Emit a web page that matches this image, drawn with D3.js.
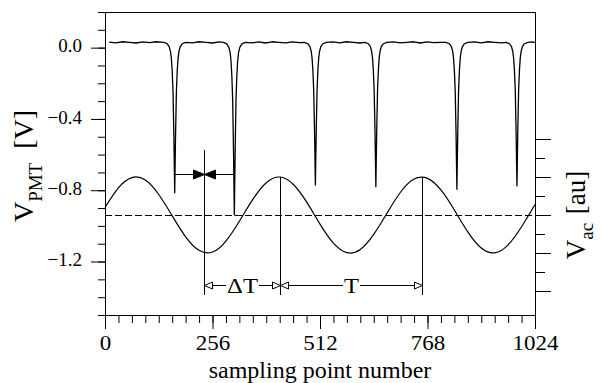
<!DOCTYPE html>
<html>
<head>
<meta charset="utf-8">
<script src="https://cdn.jsdelivr.net/npm/d3@7"></script>
</head>
<body style="margin:0;background:#fff">
<svg id="chart" width="603" height="383" style="display:block"></svg>
<script>
// ---------------- DATA ----------------
const xMajorTicks = [0, 256, 512, 768, 1024];
const yMajorTicks = [0.0, -0.4, -0.8, -1.2];
const xTitle = "sampling point number";

// PMT signal (V) vs sampling point: flat baseline with six narrow dips
const pmtSignal = [
  [10,0.031],[26,0.027],[42,0.033],[58,0.030],[74,0.026],[90,0.032],[106,0.028],[122,0.033],
  [140,0.030],[148,0.022],[153,0.005],[156,-0.022],[158,-0.060],[160,-0.130],[162,-0.250],[164,-0.493],[166,-0.814],[168,-0.493],[170,-0.250],[172,-0.130],[174,-0.060],[176,-0.022],[179,0.005],[184,0.022],[192,0.030],
  [208,0.027],[224,0.033],[240,0.030],[256,0.026],[272,0.032],
  [282,0.030],[290,0.021],[295,0.002],[298,-0.028],[300,-0.072],[302,-0.155],[304,-0.290],[306,-0.571],[308,-0.939],[310,-0.571],[312,-0.290],[314,-0.155],[316,-0.072],[318,-0.028],[321,0.002],[326,0.021],[334,0.030],
  [350,0.027],[366,0.032],[382,0.026],[398,0.033],[414,0.030],[430,0.027],[446,0.032],[462,0.028],
  [475,0.030],[483,0.022],[488,0.006],[491,-0.020],[493,-0.056],[495,-0.124],[497,-0.238],[499,-0.467],[501,-0.771],[503,-0.467],[505,-0.238],[507,-0.124],[509,-0.056],[511,-0.020],[514,0.006],[519,0.022],[527,0.030],
  [543,0.032],[559,0.027],[575,0.033],[591,0.030],[607,0.026],
  [619,0.030],[627,0.022],[632,0.006],[635,-0.020],[637,-0.057],[639,-0.126],[641,-0.240],[643,-0.472],[645,-0.780],[647,-0.472],[649,-0.240],[651,-0.126],[653,-0.057],[655,-0.020],[658,0.006],[663,0.022],[671,0.030],
  [687,0.032],[703,0.027],[719,0.030],[735,0.033],[751,0.026],[767,0.032],[783,0.028],[799,0.030],
  [812,0.030],[820,0.022],[825,0.005],[828,-0.021],[830,-0.058],[832,-0.128],[834,-0.244],[836,-0.482],[838,-0.795],[840,-0.482],[842,-0.244],[844,-0.128],[846,-0.058],[848,-0.021],[851,0.005],[856,0.022],[864,0.030],
  [880,0.032],[896,0.027],[912,0.033],[928,0.030],[944,0.027],
  [955,0.030],[963,0.022],[968,0.006],[971,-0.020],[973,-0.056],[975,-0.125],[977,-0.239],[979,-0.470],[981,-0.776],[983,-0.470],[985,-0.239],[987,-0.125],[989,-0.056],[991,-0.020],[994,0.006],[999,0.022],[1007,0.030],
  [1016,0.032],[1024,0.029]
];

// AC reference signal (au), read every 32 sampling points
const acSamples = [0,32,64,96,128,160,192,224,256,288,320,352,384,416,448,480,512,544,576,608,640,672,704,736,768,800,832,864,896,928,960,992,1024];
const acValues  = [0.40,1.43,1.97,1.84,1.08,-0.04,-1.15,-1.86,-1.95,-1.37,-0.33,0.82,1.70,2.00,1.62,0.69,-0.48,-1.48,-1.98,-1.81,-1.02,0.11,1.21,1.89,1.93,1.32,0.26,-0.89,-1.74,-1.99,-1.57,-0.62,0.55];

// Annotation markers (sampling points)
const dipPair = [166, 308];       // the two PMT dips joined by the bowtie
const deltaStart = 235;            // start of ΔT
const peakA = 416;                 // AC peak (end of ΔT, start of T)
const peakB = 756;                 // next AC peak (end of T)

// ---------------- LAYOUT ----------------
const FONT = "Liberation Serif";
const L = 105, R = 535, T = 12, B = 315;
const svg = d3.select("#chart");

const x = d3.scaleLinear().domain([0, 1024]).range([L, R]);
const yL = d3.scaleLinear().domain([-1.5, 0.2]).range([B, T]);
const yR = d3.scaleLinear().domain([-4, 4]).range([291, 139]);

// frame (half-pixel aligned for crisp 1px lines)
svg.append("rect").attr("x", L + 0.5).attr("y", T + 0.5).attr("width", R - L).attr("height", B - T)
  .attr("fill", "none").attr("stroke", "#000").attr("stroke-width", 1);

// bottom axis
const xMinor = d3.range(0, 1025, 32);
svg.append("g").attr("transform", `translate(0,${B})`)
  .call(d3.axisBottom(x).tickValues(xMinor).tickSize(8).tickFormat(""));
const gx = svg.append("g").attr("transform", `translate(0,${B})`)
  .call(d3.axisBottom(x).tickValues(xMajorTicks).tickSize(14).tickPadding(7).tickFormat(d3.format("d")));
gx.selectAll("text").style("font-size", "20px").attr("transform", "scale(1.15,1)");

// left axis
const yMinor = d3.range(-15, 3).map(d => d / 10);
svg.append("g").attr("transform", `translate(${L},0)`)
  .call(d3.axisLeft(yL).tickValues(yMinor).tickSize(7).tickFormat(""));
const gy = svg.append("g").attr("transform", `translate(${L},0)`)
  .call(d3.axisLeft(yL).tickValues(yMajorTicks).tickSize(14).tickPadding(9).tickFormat(d3.format(".1f")));
gy.selectAll("text").style("font-size", "19px").attr("dy", "0.22em");

// right axis (no labels)
const rTicks = d3.range(-4, 5);
svg.append("g").attr("transform", `translate(${R},0)`)
  .call(d3.axisRight(yR).tickValues(rTicks.filter(d => Math.abs(d) % 2 === 1)).tickSize(10).tickFormat(""));
svg.append("g").attr("transform", `translate(${R},0)`)
  .call(d3.axisRight(yR).tickValues(rTicks.filter(d => d % 2 === 0)).tickSize(16).tickFormat(""));

svg.selectAll(".domain").remove();
svg.selectAll(".tick line").attr("stroke", "#000").attr("stroke-width", 1);

// dashed zero line of AC signal
svg.append("line").attr("x1", L).attr("x2", R).attr("y1", yR(0) + 0.5).attr("y2", yR(0) + 0.5)
  .attr("stroke", "#000").attr("stroke-width", 1).attr("stroke-dasharray", "7,3");

// AC signal
const acData = acSamples.map((s, i) => [s, acValues[i]]);
svg.append("path").datum(acData)
  .attr("d", d3.line().x(d => x(d[0])).y(d => yR(d[1])).curve(d3.curveNatural))
  .attr("fill", "none").attr("stroke", "#000").attr("stroke-width", 1.2);

// PMT signal
svg.append("path").datum(pmtSignal)
  .attr("d", d3.line().x(d => x(d[0])).y(d => yL(d[1])))
  .attr("fill", "none").attr("stroke", "#000").attr("stroke-width", 1.3).attr("stroke-linejoin", "round");

// ---------- annotations ----------
const ann = svg.append("g").attr("stroke", "#000").attr("stroke-width", 1);
const arrowY = 285.5;
const px = v => Math.round(x(v)) + 0.5;

// vertical markers
ann.append("line").attr("x1", px(deltaStart)).attr("x2", px(deltaStart)).attr("y1", 150).attr("y2", 295);
ann.append("line").attr("x1", px(peakA)).attr("x2", px(peakA)).attr("y1", yR(2)).attr("y2", 295);
ann.append("line").attr("x1", px(peakB)).attr("x2", px(peakB)).attr("y1", yR(2)).attr("y2", 295);

// bowtie between dips
const bowY = 174.5;
ann.append("line").attr("x1", x(dipPair[0])).attr("x2", x(dipPair[1])).attr("y1", bowY).attr("y2", bowY);
const cx = px(deltaStart);
ann.append("path").attr("d", `M${cx},${bowY} L${cx - 11},${bowY - 4.5} L${cx - 11},${bowY + 4.5} Z`).attr("fill", "#000");
ann.append("path").attr("d", `M${cx},${bowY} L${cx + 11},${bowY - 4.5} L${cx + 11},${bowY + 4.5} Z`).attr("fill", "#000");

// double-headed open arrows with labels
function openArrow(x0, x1, label, fs) {
  const g = svg.append("g");
  const ah = 8, hw = 3.5;
  g.append("line").attr("x1", x0 + ah).attr("x2", x1 - ah).attr("y1", arrowY).attr("y2", arrowY)
    .attr("stroke", "#000").attr("stroke-width", 1);
  g.append("path").attr("d", `M${x0},${arrowY} L${x0 + ah},${arrowY - hw} L${x0 + ah},${arrowY + hw} Z`)
    .attr("fill", "#fff").attr("stroke", "#000").attr("stroke-width", 1);
  g.append("path").attr("d", `M${x1},${arrowY} L${x1 - ah},${arrowY - hw} L${x1 - ah},${arrowY + hw} Z`)
    .attr("fill", "#fff").attr("stroke", "#000").attr("stroke-width", 1);
  const t = g.append("text")
    .attr("transform", `translate(${(x0 + x1) / 2},${arrowY + 7.5}) scale(1.17,1)`)
    .attr("text-anchor", "middle").style("font-family", FONT).style("font-size", fs + "px").text(label);
  const bb = t.node().getBoundingClientRect();
  const sb = svg.node().getBoundingClientRect();
  g.insert("rect", "text").attr("x", bb.left - sb.left - 1).attr("y", arrowY - 3).attr("width", bb.width + 2).attr("height", 6)
    .attr("fill", "#fff");
}
openArrow(px(deltaStart), px(peakA), "ΔT", 21);
openArrow(px(peakA), px(peakB), "T", 21);

// axis titles
svg.append("text").attr("x", (L + R) / 2).attr("y", 378).attr("text-anchor", "middle")
  .style("font-size", "24px").text(xTitle);

const yl = svg.append("text").attr("transform", `translate(33,166) rotate(-90)`).attr("text-anchor", "middle")
  .style("font-size", "28px");
yl.append("tspan").text("V");
yl.append("tspan").attr("dy", 9).style("font-size", "19px").text("PMT");
yl.append("tspan").attr("dy", -9).attr("dx", 7).text(" [V]");

const yr = svg.append("text").attr("transform", `translate(585,215) rotate(-90)`).attr("text-anchor", "middle")
  .style("font-size", "27px");
yr.append("tspan").text("V");
yr.append("tspan").attr("dy", 8).style("font-size", "19px").text("ac");
yr.append("tspan").attr("dy", -8).attr("dx", 2).text(" [au]");

// serif font on every text element
svg.selectAll("text").style("font-family", FONT).attr("fill", "#000");
</script>
</body>
</html>
